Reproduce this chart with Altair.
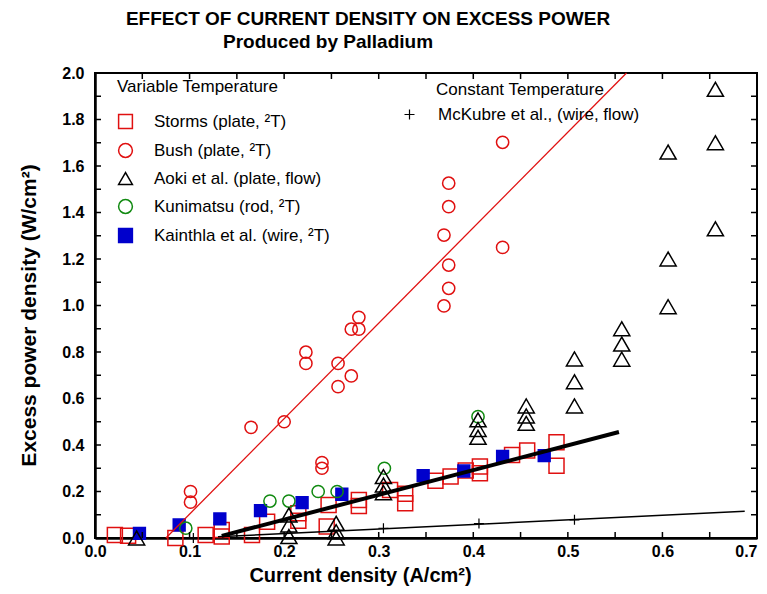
import altair as alt
import pandas as pd

# ---------------- data ----------------
SERIES = ["Storms (plate, ²T)", "Bush (plate, ²T)", "Aoki et al. (plate, flow)",
          "Kunimatsu (rod, ²T)", "Kainthla et al. (wire, ²T)"]
MCKUBRE = "McKubre et al., (wire, flow)"

storms_x = [0.021, 0.035, 0.085, 0.117, 0.134, 0.134, 0.166, 0.182, 0.215, 0.215, 0.245, 0.247, 0.279,
            0.279, 0.312, 0.328, 0.328, 0.360, 0.376, 0.392, 0.407, 0.407, 0.441, 0.457, 0.488, 0.488]
storms_y = [0.013, 0.010, 0.000, 0.013, 0.034, 0.006, 0.013, 0.070, 0.106, 0.074, 0.049, 0.142, 0.163,
            0.138, 0.206, 0.190, 0.150, 0.246, 0.264, 0.290, 0.307, 0.278, 0.357, 0.376, 0.412, 0.311]

bush_x = [0.101, 0.101, 0.165, 0.200, 0.223, 0.223, 0.240, 0.240, 0.257, 0.257, 0.271,
          0.271, 0.279, 0.279, 0.369, 0.369, 0.374, 0.374, 0.374, 0.374, 0.431, 0.431]
bush_y = [0.200, 0.154, 0.476, 0.500, 0.799, 0.751, 0.324, 0.300, 0.751, 0.651, 0.697,
          0.898, 0.898, 0.949, 0.998, 1.303, 1.074, 1.174, 1.425, 1.526, 1.250, 1.702]

aoki_x = [0.044, 0.205, 0.205, 0.205, 0.255, 0.255, 0.255, 0.305, 0.305, 0.305, 0.405, 0.405, 0.405, 0.456,
          0.456, 0.456, 0.507, 0.507, 0.507, 0.557, 0.557, 0.557, 0.606, 0.606, 0.606, 0.656, 0.656, 0.656]
aoki_y = [0.000, 0.099, 0.056, 0.006, 0.063, 0.027, 0.000, 0.264, 0.228, 0.195, 0.508, 0.467, 0.433, 0.568,
          0.525, 0.493, 0.770, 0.672, 0.568, 0.900, 0.834, 0.769, 1.660, 1.200, 0.995, 1.930, 1.700, 1.330]

kuni_x = [0.096, 0.185, 0.205, 0.236, 0.256, 0.306, 0.405]
kuni_y = [0.042, 0.159, 0.159, 0.200, 0.200, 0.300, 0.522]

kain_x = [0.047, 0.089, 0.132, 0.175, 0.219, 0.261, 0.347, 0.390, 0.431, 0.475]
kain_y = [0.020, 0.056, 0.082, 0.118, 0.152, 0.188, 0.268, 0.288, 0.351, 0.354]

mck_x = [0.104, 0.305, 0.406, 0.507]
mck_y = [0.000, 0.042, 0.062, 0.078]

# fitted lines (end points)
bush_fit_x = [0.075, 0.562]
bush_fit_y = [0.000, 2.000]
storms_fit_x = [0.134, 0.554]
storms_fit_y = [0.009, 0.456]
mck_fit_x = [0.130, 0.687]
mck_fit_y = [0.005, 0.115]

x_ticks = [0.0, 0.05, 0.1, 0.15, 0.2, 0.25, 0.3, 0.35, 0.4, 0.45, 0.5, 0.55, 0.6, 0.65, 0.7]
y_ticks = [0.0, 0.1, 0.2, 0.3, 0.4, 0.5, 0.6, 0.7, 0.8, 0.9, 1.0, 1.1, 1.2, 1.3, 1.4, 1.5, 1.6, 1.7,
           1.8, 1.9, 2.0]
x_labels = [0.0, 0.1, 0.2, 0.3, 0.4, 0.5, 0.6, 0.7]
y_labels = [0.0, 0.2, 0.4, 0.6, 0.8, 1.0, 1.2, 1.4, 1.6, 1.8, 2.0]

TITLE1 = "EFFECT OF CURRENT DENSITY ON EXCESS POWER"
TITLE2 = "Produced by Palladium"
XTITLE = "Current density (A/cm²)"
YTITLE = "Excess power density (W/cm²)"

# ---------------- styling ----------------
W, H = 662, 465
FONT = "Liberation Sans"
RED = "#e01010"
GREEN = "#118a11"
BLUE = "#0000cc"
PLUS = "M-1,0L1,0M0,-1L0,1"

xscale = alt.Scale(domain=[0, 0.7], nice=False, zero=False)
yscale = alt.Scale(domain=[0, 2.0], nice=False, zero=False)
xaxis = alt.Axis(values=x_labels, format=".1f", ticks=False, grid=False, domainWidth=2.5,
                 domainColor="black", labelFontSize=16, labelFontWeight="bold", labelFont=FONT,
                 labelColor="black", labelPadding=5, labelFlush=False, labelOverlap=False,
                 labelAlign={"condition": {"test": "datum.value >= 0.69", "value": "right"},
                             "value": "center"},
                 title=XTITLE, titleFontSize=20, titleFont=FONT, titleFontWeight="bold",
                 titleColor="black", titleX=265, titleY=37, titleAlign="center",
                 titleBaseline="middle")
yaxis = alt.Axis(values=y_labels, format=".1f", ticks=False, grid=False, domainWidth=2.5,
                 domainColor="black", labelFontSize=16, labelFontWeight="bold", labelFont=FONT,
                 labelColor="black", labelPadding=11, labelFlush=False, labelOverlap=False,
                 title=YTITLE, titleFontSize=21, titleFont=FONT, titleFontWeight="bold",
                 titleColor="black", titleX=-66, titleY=242, titleAngle=270, titleAlign="center",
                 titleBaseline="middle")


def X(f="x"):
    return alt.X(f, type="quantitative", scale=xscale, axis=xaxis, title=XTITLE)


def Y(f="y"):
    return alt.Y(f, type="quantitative", scale=yscale, axis=yaxis, title=YTITLE)


shape_scale = alt.Scale(domain=SERIES, range=["square", "circle", "triangle-up", "circle", "square"])
stroke_scale = alt.Scale(domain=SERIES, range=[RED, RED, "black", GREEN, BLUE])
fill_scale = alt.Scale(domain=SERIES, range=["transparent", "transparent", "transparent",
                                              "transparent", BLUE])
leg1 = alt.Legend(title="Variable Temperature", orient="none", legendX=22, legendY=6, padding=0,
                  titleFontSize=17, titleFontWeight="normal", titleFont=FONT, titleColor="black",
                  titlePadding=17, titleAnchor="start", labelFontSize=17, labelFont=FONT,
                  labelColor="black", labelOffset=20, rowPadding=8, symbolSize=190,
                  symbolStrokeWidth=1.5, labelLimit=400)
leg2 = alt.Legend(title="Constant Temperature", orient="none", legendX=306, legendY=9, padding=0,
                  titleFontSize=17, titleFontWeight="normal", titleFont=FONT, titleColor="black",
                  titlePadding=7, titleAnchor="middle", labelFontSize=17, labelFont=FONT,
                  labelColor="black", labelOffset=20, symbolSize=100, symbolStrokeColor="black",
                  symbolFillColor="transparent", symbolStrokeWidth=1.2, labelLimit=400)


def series_layer(name, xs, ys, size):
    df = pd.DataFrame({"x": xs, "y": ys, "series": name})
    return alt.Chart(df).mark_point(size=size, strokeWidth=1.5, opacity=1).encode(
        x=X(), y=Y(),
        shape=alt.Shape("series:N", scale=shape_scale, legend=leg1),
        stroke=alt.Stroke("series:N", scale=stroke_scale, legend=leg1),
        fill=alt.Fill("series:N", scale=fill_scale, legend=leg1),
    )


points = alt.layer(
    series_layer(SERIES[0], storms_x, storms_y, 225),
    series_layer(SERIES[4], kain_x, kain_y, 140),
    series_layer(SERIES[3], kuni_x, kuni_y, 150),
    series_layer(SERIES[1], bush_x, bush_y, 150),
    series_layer(SERIES[2], aoki_x, aoki_y, 260),
)


def line_layer(xs, ys, color, width):
    df = pd.DataFrame({"x": xs, "y": ys})
    return alt.Chart(df).mark_line(color=color, strokeWidth=width).encode(x=X(), y=Y())


mck = alt.Chart(pd.DataFrame({"x": mck_x, "y": mck_y, "series": MCKUBRE})).mark_point(
    filled=False, size=100, color="black", strokeWidth=1.2, opacity=1).encode(
    x=X(), y=Y(),
    shape=alt.Shape("series:N", scale=alt.Scale(domain=[MCKUBRE], range=[PLUS]), legend=leg2),
)

xt = alt.Chart(pd.DataFrame({"x": x_ticks})).mark_rule(color="black", strokeWidth=1.5)
yt = alt.Chart(pd.DataFrame({"y": y_ticks})).mark_rule(color="black", strokeWidth=1.5)
ticks = [
    xt.encode(x=X(), y=alt.value(H), y2=alt.value(H - 6)),
    xt.encode(x=X(), y=alt.value(0), y2=alt.value(6)),
    yt.encode(y=Y(), x=alt.value(0), x2=alt.value(6)),
    yt.encode(y=Y(), x=alt.value(W), x2=alt.value(W - 6)),
]

t1 = alt.Chart(pd.DataFrame({"t": [TITLE1]})).mark_text(
    font=FONT, fontSize=19, fontWeight="bold", color="black", align="center", baseline="middle"
).encode(text="t:N", x=alt.value(273), y=alt.value(-54))
t2 = alt.Chart(pd.DataFrame({"t": [TITLE2]})).mark_text(
    font=FONT, fontSize=19, fontWeight="bold", color="black", align="center", baseline="middle"
).encode(text="t:N", x=alt.value(233), y=alt.value(-31))

chart = alt.layer(
    points,
    line_layer(bush_fit_x, bush_fit_y, RED, 1.3),
    line_layer(storms_fit_x, storms_fit_y, "black", 4),
    line_layer(mck_fit_x, mck_fit_y, "black", 1.5),
    mck,
    *ticks,
    t1, t2,
).resolve_scale(shape="independent", stroke="independent", fill="independent").properties(
    width=W, height=H,
    padding={"left": 87, "top": 65, "right": 2, "bottom": 48},
    autosize=alt.AutoSizeParams(type="none"),
    background="white",
).configure_view(stroke="black", strokeWidth=2)

chart.save("out.html", embed_options={"renderer": "svg", "actions": False})
